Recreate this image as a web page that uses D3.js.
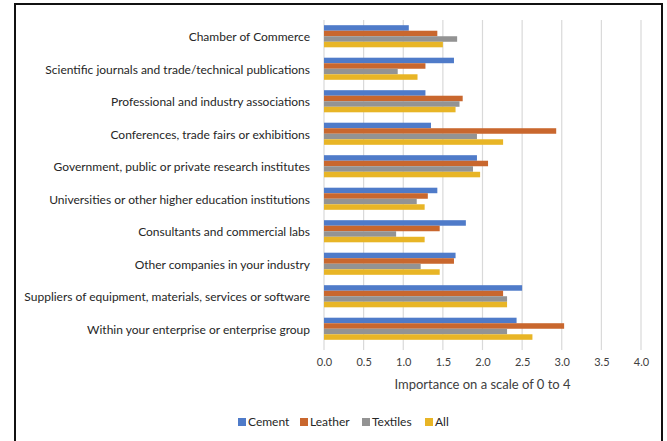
<!DOCTYPE html>
<html><head><meta charset="utf-8">
<script src="https://cdn.jsdelivr.net/npm/d3@7"></script>
<style>body{margin:0;background:#fff}svg{display:block}</style>
</head><body>
<script>
const categories = [
  "Chamber of Commerce",
  "Scientific journals and trade/technical publications",
  "Professional and industry associations",
  "Conferences, trade fairs or exhibitions",
  "Government, public or private research institutes",
  "Universities or other higher education institutions",
  "Consultants and commercial labs",
  "Other companies in your industry",
  "Suppliers of equipment, materials, services or software",
  "Within your enterprise or enterprise group"
];
const seriesNames = ["Cement", "Leather", "Textiles", "All"];
const cement   = [1.07, 1.64, 1.28, 1.35, 1.93, 1.43, 1.79, 1.66, 2.50, 2.43];
const leather  = [1.43, 1.28, 1.75, 2.93, 2.07, 1.31, 1.46, 1.64, 2.26, 3.03];
const textiles = [1.68, 0.93, 1.71, 1.93, 1.88, 1.17, 0.91, 1.22, 2.31, 2.31];
const all      = [1.50, 1.18, 1.66, 2.26, 1.97, 1.27, 1.27, 1.46, 2.31, 2.63];
const xTicks = [0, 0.5, 1, 1.5, 2, 2.5, 3, 3.5, 4];
const colors = ["#4F7BC9", "#C9672E", "#939393", "#E8B526"];
const seriesValues = [cement, leather, textiles, all];

const W = 667, H = 441;
const svg = d3.select("body").append("svg").attr("width", W).attr("height", H);
svg.append("rect").attr("x", 15).attr("y", 4).attr("width", 647).attr("height", 450)
  .attr("fill", "#fff").attr("stroke", "#111").attr("stroke-width", 2);

const pLeft = 324, pRight = 641, pTop = 20, pBottom = 345;
const x = d3.scaleLinear().domain([0, 4]).range([pLeft, pRight]);
const y = d3.scaleBand().domain(categories).range([pTop, pBottom]).paddingInner(0.32).paddingOuter(0.16);
const y1 = d3.scaleBand().domain(seriesNames).range([0, y.bandwidth()]);

// gridlines
svg.append("g").selectAll("line").data(xTicks).join("line")
  .attr("x1", d => x(d)).attr("x2", d => x(d))
  .attr("y1", pTop).attr("y2", pBottom + 5)
  .attr("stroke", "#d9d9d9").attr("stroke-width", 1.2);

// bars
const rows = categories.map((c, i) => ({c, vals: seriesNames.map((s, j) => ({s, v: seriesValues[j][i], col: colors[j]}))}));
svg.append("g").selectAll("g").data(rows).join("g")
  .attr("transform", d => `translate(0,${y(d.c)})`)
  .selectAll("rect").data(d => d.vals).join("rect")
  .attr("x", x(0)).attr("y", d => y1(d.s))
  .attr("width", d => x(d.v) - x(0)).attr("height", y1.bandwidth())
  .attr("fill", d => d.col);

// category labels
svg.append("g").selectAll("text").data(categories).join("text")
  .attr("x", 310).attr("y", d => y(d) + y.bandwidth() / 2 + 1)
  .attr("dy", "0.35em").attr("text-anchor", "end")
  .attr("font-family", "Lato, 'Open Sans', sans-serif").attr("font-size", 12)
  .attr("fill", "#262626").text(d => d);

// x axis labels
const xAxis = d3.axisBottom(x).tickValues(xTicks).tickFormat(d3.format(".1f")).tickSize(0).tickPadding(0);
const gx = svg.append("g").attr("transform", `translate(0,${pBottom + 13})`).call(xAxis);
gx.select(".domain").remove();
gx.selectAll("text").attr("font-family", "Lato, 'Open Sans', sans-serif").attr("font-size", 11).attr("fill", "#404040");

svg.append("text").attr("x", (pLeft + pRight) / 2).attr("y", 389).attr("text-anchor", "middle")
  .attr("font-family", "Lato, 'Open Sans', sans-serif").attr("font-size", 13).attr("fill", "#404040")
  .text("Importance on a scale of 0 to 4");

// legend
const legendX = [238, 300, 362, 425];
const lg = svg.append("g").selectAll("g").data(seriesNames).join("g")
  .attr("transform", (d, i) => `translate(${legendX[i]},422)`);
lg.append("rect").attr("x", 0).attr("y", -4).attr("width", 8).attr("height", 8).attr("fill", (d, i) => colors[i]);
lg.append("text").attr("x", 10).attr("dy", "0.35em")
  .attr("font-family", "Lato, 'Open Sans', sans-serif").attr("font-size", 12).attr("fill", "#262626").text(d => d);
</script>
</body></html>
